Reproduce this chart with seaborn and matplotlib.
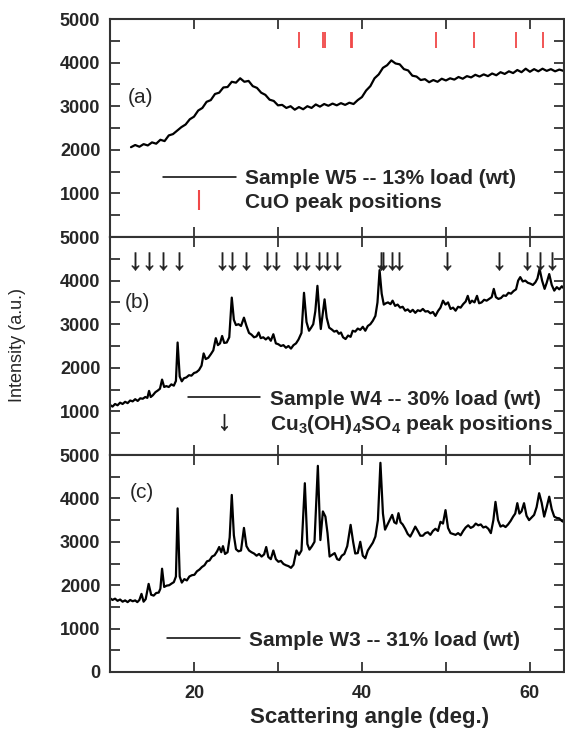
import numpy as np
import pandas as pd
import matplotlib
matplotlib.use("Agg")
import matplotlib.pyplot as plt
import seaborn as sns
from matplotlib.lines import Line2D
from matplotlib.ticker import MultipleLocator

# ---------------- data ----------------
# Panel (a): sample W5
x_a = [12.5, 13.0, 13.5, 14.0, 14.5, 15.0, 15.5, 16.0, 16.5, 17.0, 17.5, 18.0, 18.5, 19.0, 19.5,
       20.0, 20.5, 21.0, 21.5, 22.0, 22.5, 23.0, 23.5, 24.0, 24.5, 25.0, 25.5, 26.0, 26.5, 27.0,
       27.5, 28.0, 28.5, 29.0, 29.5, 30.0, 30.5, 31.0, 31.5, 32.0, 32.5, 33.0, 33.5, 34.0, 34.5,
       35.0, 35.5, 36.0, 36.5, 37.0, 37.5, 38.0, 38.5, 39.0, 39.5, 40.0, 40.5, 41.0, 41.5, 42.0,
       42.5, 43.0, 43.5, 44.0, 44.5, 45.0, 45.5, 46.0, 46.5, 47.0, 47.5, 48.0, 48.5, 49.0, 49.5,
       50.0, 50.5, 51.0, 51.5, 52.0, 52.5, 53.0, 53.5, 54.0, 54.5, 55.0, 55.5, 56.0, 56.5, 57.0,
       57.5, 58.0, 58.5, 59.0, 59.5, 60.0, 60.5, 61.0, 61.5, 62.0, 62.5, 63.0, 63.5, 64.0]
y_a = [2060, 2110, 2070, 2130, 2100, 2170, 2140, 2230, 2200, 2330, 2360, 2440, 2520, 2580, 2700,
       2760, 2900, 2960, 3100, 3140, 3280, 3310, 3430, 3440, 3560, 3540, 3640, 3560, 3580, 3460,
       3420, 3310, 3260, 3150, 3120, 3020, 3030, 2960, 3000, 2920, 2980, 2930, 3000, 2960, 3040,
       2990, 3050, 3010, 3060, 3020, 3070, 3030, 3080, 3050, 3140, 3210, 3360, 3460, 3640, 3730,
       3880, 3940, 4050, 3980, 3960, 3850, 3820, 3700, 3680, 3600, 3620, 3550, 3600, 3560, 3630,
       3590, 3640, 3610, 3670, 3630, 3690, 3660, 3720, 3680, 3730, 3690, 3750, 3710, 3780, 3740,
       3800, 3760, 3830, 3780, 3860, 3790, 3850, 3800, 3860, 3810, 3850, 3800, 3840, 3810]

# Panel (b): sample W4
x_b = [10.0, 10.3, 10.6, 10.9, 11.2, 11.5, 11.8, 12.1, 12.4, 12.7, 13.0, 13.3, 13.6, 13.9, 14.2,
       14.45, 14.65, 14.85, 15.1, 15.4, 15.7, 15.95, 16.2, 16.45, 16.7, 17.0, 17.3, 17.6, 17.85,
       18.05, 18.3, 18.55, 18.8, 19.1, 19.4, 19.7, 20.0, 20.3, 20.6, 20.9, 21.15, 21.4, 21.7, 22.0,
       22.3, 22.6, 22.85, 23.1, 23.35, 23.6, 23.9, 24.2, 24.5, 24.75, 25.0, 25.3, 25.6, 25.95,
       26.25, 26.55, 26.85, 27.15, 27.45, 27.7, 27.95, 28.25, 28.55, 28.85, 29.15, 29.45, 29.75,
       30.05, 30.35, 30.65, 30.95, 31.25, 31.55, 31.85, 32.15, 32.45, 32.8, 33.1, 33.4, 33.7,
       33.95, 34.2, 34.45, 34.7, 34.95, 35.1, 35.3, 35.55, 35.8, 36.1, 36.4, 36.7, 37.0, 37.25,
       37.5, 37.75, 38.05, 38.35, 38.65, 38.9, 39.2, 39.5, 39.8, 40.1, 40.4, 40.7, 41.0, 41.3,
       41.6, 41.85, 42.1, 42.35, 42.6, 42.85, 43.1, 43.4, 43.65, 43.95, 44.25, 44.55, 44.85,
       45.15, 45.45, 45.75, 46.05, 46.35, 46.65, 46.95, 47.25, 47.55, 47.85, 48.15, 48.45, 48.75,
       49.05, 49.35, 49.65, 49.95, 50.25, 50.55, 50.85, 51.15, 51.45, 51.75, 52.05, 52.35, 52.6,
       52.85, 53.1, 53.4, 53.7, 53.95, 54.25, 54.55, 54.85, 55.15, 55.45, 55.7, 55.95, 56.25,
       56.55, 56.85, 57.15, 57.45, 57.75, 58.05, 58.35, 58.6, 58.85, 59.15, 59.45, 59.75, 60.05,
       60.35, 60.65, 60.9, 61.15, 61.45, 61.75, 62.0, 62.3, 62.6, 62.9, 63.2, 63.5, 63.8, 64.0]
y_b = [1150, 1110, 1170, 1140, 1200, 1170, 1220, 1190, 1250, 1230, 1280, 1240, 1300, 1290, 1330,
       1310, 1470, 1330, 1370, 1440, 1480, 1520, 1730, 1560, 1580, 1560, 1620, 1590, 1700,
       2580, 1800, 1690, 1760, 1780, 1830, 1820, 1880, 1900, 1950, 2050, 2330, 2200, 2230, 2310,
       2400, 2680, 2520, 2560, 2730, 2570, 2580, 2700, 3610, 3100, 2980, 3000, 2960, 3150,
       2960, 2800, 2760, 2700, 2720, 2810, 2680, 2700, 2650, 2700, 2620, 2770, 2560,
       2540, 2500, 2520, 2460, 2500, 2440, 2520, 2560, 2650, 2800, 3720, 3050, 2850,
       2920, 3000, 3300, 3880, 3200, 2890, 3200, 3570, 3150, 2920, 2880, 2830, 2850, 2780,
       2810, 2700, 2660, 2740, 2710, 2850, 2830, 2900, 2870, 2940, 2850, 2960, 3000, 3080,
       3190, 3500, 4240, 3700, 3450, 3480, 3500, 3460, 3540, 3420, 3450, 3380, 3400,
       3310, 3340, 3280, 3330, 3260, 3320, 3300, 3350, 3290, 3300, 3250, 3280, 3190,
       3300, 3380, 3540, 3450, 3500, 3350, 3380, 3310, 3400, 3380, 3460, 3520, 3650,
       3480, 3540, 3500, 3650, 3480, 3500, 3560, 3540, 3580, 3620, 3810, 3620, 3580,
       3600, 3660, 3650, 3720, 3700, 3760, 3800, 4000, 4080, 3980, 4000, 3950, 3930,
       3900, 3960, 4050, 4270, 4000, 3810, 3950, 4150, 3900, 3770, 3850, 3800, 3870, 3830]

# Panel (c): sample W3
x_c = [10.0, 10.3, 10.6, 10.9, 11.2, 11.5, 11.8, 12.1, 12.4, 12.7, 13.0, 13.25, 13.5, 13.75, 14.0,
       14.25, 14.6, 14.9, 15.2, 15.5, 15.8, 16.0, 16.2, 16.45, 16.75, 17.05, 17.35, 17.6, 17.85,
       18.05, 18.3, 18.55, 18.85, 19.15, 19.45, 19.75, 20.05, 20.35, 20.65, 20.95, 21.25, 21.55,
       21.85, 22.15, 22.45, 22.75, 23.0, 23.25, 23.45, 23.7, 24.0, 24.25, 24.5, 24.75, 25.0, 25.3,
       25.6, 25.95, 26.25, 26.55, 26.85, 27.15, 27.45, 27.75, 28.05, 28.35, 28.6, 28.85, 29.15,
       29.45, 29.75, 30.05, 30.35, 30.65, 30.95, 31.25, 31.55, 31.85, 32.2, 32.5, 32.8, 33.2,
       33.5, 33.75, 34.05, 34.35, 34.75, 35.05, 35.35, 35.65, 35.9, 36.15, 36.45, 36.75, 37.05,
       37.3, 37.6, 37.9, 38.25, 38.65, 38.95, 39.2, 39.5, 39.8, 40.1, 40.4, 40.7, 41.0, 41.3,
       41.6, 41.9, 42.2, 42.5, 42.75, 43.0, 43.3, 43.6, 43.85, 44.1, 44.35, 44.6, 44.85, 45.15,
       45.45, 45.75, 46.05, 46.35, 46.65, 46.95, 47.25, 47.55, 47.85, 48.15, 48.45, 48.75, 49.05,
       49.35, 49.65, 49.95, 50.25, 50.55, 50.85, 51.15, 51.45, 51.75, 52.05, 52.35, 52.65, 52.95,
       53.25, 53.55, 53.85, 54.15, 54.45, 54.75, 55.05, 55.35, 55.65, 55.9, 56.2, 56.5, 56.8,
       57.1, 57.4, 57.7, 58.0, 58.25, 58.5, 58.75, 59.0, 59.3, 59.6, 59.9, 60.2, 60.5, 60.8,
       61.1, 61.4, 61.7, 62.0, 62.3, 62.6, 62.9, 63.2, 63.5, 63.8, 64.0]
y_c = [1700, 1660, 1690, 1640, 1670, 1620, 1650, 1610, 1660, 1630, 1650, 1610, 1660, 1800, 1620,
       1680, 2030, 1780, 1760, 1820, 1830, 1920, 2380, 1960, 1990, 2000, 2040, 2070, 2200,
       3770, 2200, 2060, 2140, 2110, 2200, 2230, 2240, 2320, 2360, 2420, 2460, 2550,
       2570, 2660, 2690, 2780, 2880, 2760, 2900, 2720, 2760, 3100, 4080, 3150, 2830, 2780,
       2800, 3320, 2900, 2800, 2760, 2730, 2680, 2720, 2660, 2710, 2880, 2650, 2600,
       2800, 2600, 2540, 2560, 2490, 2460, 2440, 2400, 2470, 2800, 2700, 2800, 4350,
       2950, 2820, 2900, 3000, 4750, 3040, 3700, 3580, 3200, 2660, 2700, 2740, 2600,
       2580, 2680, 2720, 2900, 3390, 3000, 2730, 2740, 3000, 2680, 2620, 2800, 2890, 2980,
       3120, 3500, 4820, 3650, 3280, 3380, 3500, 3620, 3450, 3420, 3660, 3450, 3400, 3300,
       3180, 3120, 3230, 3350, 3250, 3140, 3140, 3200, 3220, 3160, 3250, 3300, 3250,
       3460, 3420, 3730, 3320, 3200, 3180, 3160, 3200, 3150, 3250, 3330, 3380, 3320,
       3350, 3420, 3380, 3400, 3330, 3350, 3300, 3200, 3500, 3920, 3500, 3350, 3380,
       3340, 3400, 3480, 3580, 3650, 3890, 3650, 3700, 3890, 3600, 3500, 3560, 3620, 3800,
       4120, 3900, 3580, 3800, 4040, 3750, 3580, 3550, 3540, 3480, 3460]

# reference peak positions
cuo_peaks = [32.5, 35.4, 35.55, 38.65, 38.85, 48.8, 53.4, 58.3, 61.5]
cuo_tick_low, cuo_tick_high = 4330, 4700
sulfate_peaks = [13.0, 14.6, 16.3, 18.2, 23.3, 24.5, 26.2, 28.7, 29.8, 32.3, 33.3, 34.9, 35.8,
                 37.0, 42.3, 42.55, 43.6, 44.4, 50.1, 56.3, 59.6, 61.2, 62.6]
sulfate_arrow_y = 4450

labels = ["Sample W5 -- 13% load (wt)", "Sample W4 -- 30% load (wt)", "Sample W3 -- 31% load (wt)"]
panel_tags = ["(a)", "(b)", "(c)"]

# ---------------- style ----------------
sns.set_style("ticks")
plt.rcParams["font.family"] = ["Liberation Sans", "DejaVu Sans"]
plt.rcParams["font.weight"] = "bold"
plt.rcParams["mathtext.fontset"] = "custom"
plt.rcParams["mathtext.rm"] = "Liberation Sans:bold"
plt.rcParams["mathtext.bf"] = "Liberation Sans:bold"
plt.rcParams["mathtext.it"] = "Liberation Sans:bold"
plt.rcParams["mathtext.default"] = "rm"

W, H = 565, 735
fig = plt.figure(figsize=(W / 100, H / 100), dpi=100)
left = 110 / W
right = 563.5 / W
tops = [19, 237, 455]
bots = [237, 455, 672]
axes = []
for t, b in zip(tops, bots):
    ax = fig.add_axes([left, 1 - b / H, right - left, (b - t) / H])
    axes.append(ax)

dfs = [pd.DataFrame({"angle": x_a, "intensity": y_a}),
       pd.DataFrame({"angle": x_b, "intensity": y_b}),
       pd.DataFrame({"angle": x_c, "intensity": y_c})]

red = "#f04848"
for i, (ax, df) in enumerate(zip(axes, dfs)):
    sns.lineplot(data=df, x="angle", y="intensity", ax=ax, color="black", lw=1.6,
                 sort=False, estimator=None, legend=False)
    ax.set_xlim(10, 64)
    ax.set_ylim(0, 5000)
    ax.set_xlabel("")
    ax.set_ylabel("")
    ax.xaxis.set_major_locator(MultipleLocator(20))
    ax.xaxis.set_minor_locator(MultipleLocator(10))
    if i < 2:
        ax.set_yticks([1000, 2000, 3000, 4000, 5000])
        ax.tick_params(axis="x", labelbottom=False)
    else:
        ax.set_yticks([0, 1000, 2000, 3000, 4000, 5000])
    ax.yaxis.set_minor_locator(MultipleLocator(500))
    ax.tick_params(which="both", direction="in", top=True, right=True, length=7, width=1.3,
                   color="#333333")
    ax.tick_params(axis="y", which="major", labelsize=13, pad=7)
    ax.tick_params(axis="x", which="major", labelsize=13, pad=9)
    for s in ax.spines.values():
        s.set_linewidth(1.5)
        s.set_color("#333333")
    ax.text([0.04, 0.033, 0.044][i], [0.642, 0.70, 0.829][i], panel_tags[i],
            transform=ax.transAxes, fontsize=15, fontweight="normal", va="center", ha="left")

# CuO reference ticks in panel (a)
axes[0].vlines(cuo_peaks, cuo_tick_low, cuo_tick_high, color=red, lw=1.3)
# sulfate arrows in panel (b)
axes[1].plot(sulfate_peaks, [sulfate_arrow_y] * len(sulfate_peaks), ls="none",
             marker=r"$\downarrow$", markersize=13, color="#222222", markeredgewidth=0.3)

line_h = Line2D([], [], color="black", lw=1.1)
leg_kw = dict(frameon=False, fontsize=15, handlelength=3.5, handletextpad=0.45,
              borderpad=0, borderaxespad=0, loc="upper left", labelspacing=0.2)
axes[0].legend([line_h, Line2D([], [], color=red, ls="none", marker="|", markersize=15,
                               markeredgewidth=1.5)],
               [labels[0], "CuO peak positions"], bbox_to_anchor=(0.1165, 0.31), **leg_kw)
axes[1].legend([line_h, Line2D([], [], color="#222222", ls="none", marker=r"$\downarrow$",
                               markersize=12, markeredgewidth=0.3)],
               [labels[1], r"Cu$_3$(OH)$_4$SO$_4$ peak positions"],
               bbox_to_anchor=(0.171, 0.30), **leg_kw)
axes[2].legend([line_h], [labels[2]], bbox_to_anchor=(0.125, 0.19), **leg_kw)

fig.text(18 / W, 1 - 345 / H, "Intensity (a.u.)", rotation=90, fontsize=13,
         fontweight="normal", ha="center", va="center")
fig.text(370 / W, 1 - 718 / H, "Scattering angle (deg.)", fontsize=16,
         fontweight="bold", ha="center", va="center")

fig.savefig("out.png", dpi=100)
